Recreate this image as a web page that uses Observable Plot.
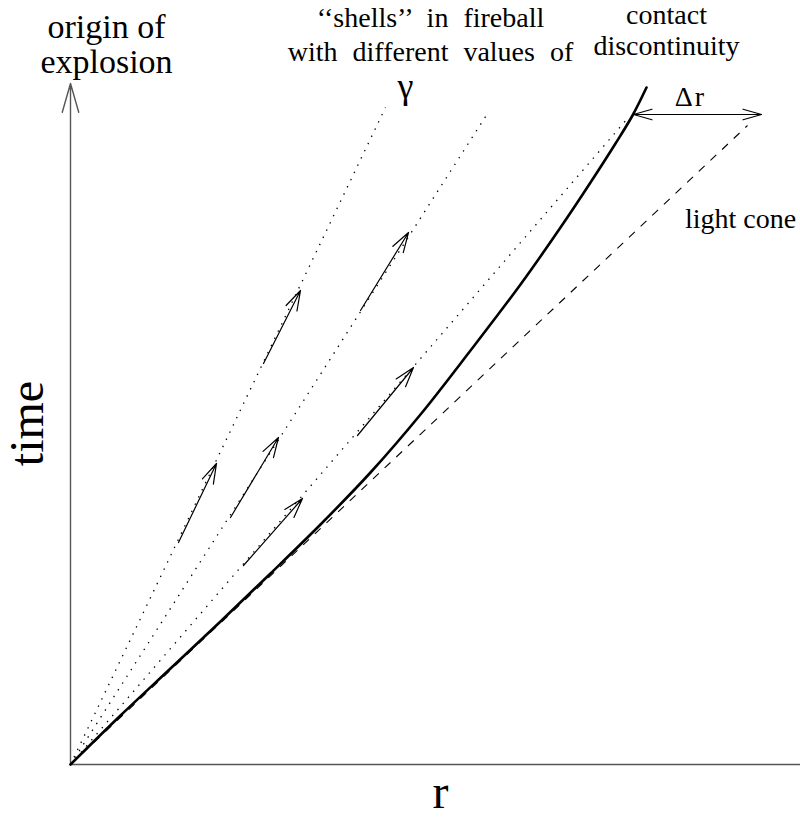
<!DOCTYPE html>
<html><head><meta charset="utf-8">
<script src="https://cdn.jsdelivr.net/npm/d3@7"></script>
<script src="https://cdn.jsdelivr.net/npm/@observablehq/plot@0.6"></script>
<style>body{margin:0;background:#fff} svg{display:block;background:#fff} svg text{font-family:"Liberation Serif","Times New Roman",serif !important;}</style>
</head><body><div id="chart"></div>
<script>
// contact discontinuity world-line (r, time)
const curveR = [0, 50, 100, 150, 200, 250, 300, 350, 400, 450, 490, 520, 545, 562, 576];
const curveT = [0, 49, 96, 143, 191, 240, 292, 350, 414, 480, 537, 582, 621, 649, 677];
// shell world-lines (dotted), from origin to end point
const shellEndR = [315, 417, 557];
const shellEndT = [657, 651, 646];
// light cone (dashed)
const lightConeR = [0, 677];
const lightConeT = [0, 639];
// velocity arrows on shells
const shellArrowR1 = [108, 193, 160, 290, 173, 287];
const shellArrowT1 = [222, 401, 247, 454, 199, 329];
const shellArrowR2 = [146, 230, 208, 338, 232, 343];
const shellArrowT2 = [301, 474, 327, 532, 266, 397];
// Δr separation
const deltaR = [563, 691];
const deltaT = 650;
// axis extents
const axisTop = 681;
const axisRight = 730;

const labels = {
  origin1: "origin of",
  origin2: "explosion",
  shells: "‘‘shells’’ in fireball\nwith different values of",
  gamma: "γ",
  contact: "contact\ndiscontinuity",
  dr: "Δr",
  light: "light cone",
  time: "time",
  r: "r"
};

const serif = "Liberation Serif";
const one = [0];
const txt = (s, x, y, size, extra = {}) =>
  Plot.text([s], {x: () => x, y: () => y, text: d => d, fontSize: size, fontFamily: serif,
    fill: "#000", textAnchor: "middle", lineAnchor: "bottom", ...extra});

const idx = d3.range(curveR.length);
const arrows = d3.range(shellArrowR1.length);
const shells = d3.range(shellEndR.length);

const chart = Plot.plot({
  width: 800, height: 818,
  marginLeft: 0, marginRight: 0, marginTop: 0, marginBottom: 0,
  x: {domain: [-70, 730], axis: null},
  y: {domain: [-54, 764], axis: null},
  marks: [
    // axes
    Plot.ruleY(one, {y: 0, x1: 0, x2: axisRight, stroke: "#555", strokeWidth: 1.4}),
    Plot.arrow(one, {x1: 0, y1: 0, x2: 0, y2: axisTop, stroke: "#555", strokeWidth: 1.4,
      headLength: 32, headAngle: 32}),
    // shells
    Plot.link(shells, {x1: 0, y1: 0, x2: i => shellEndR[i], y2: i => shellEndT[i],
      stroke: "#000", strokeWidth: 1.3, strokeDasharray: "1.4,6.6"}),
    // light cone
    Plot.link(one, {x1: lightConeR[0], y1: lightConeT[0], x2: lightConeR[1], y2: lightConeT[1],
      stroke: "#000", strokeWidth: 1.1, strokeDasharray: "8,8"}),
    // contact discontinuity
    Plot.line(idx, {x: i => curveR[i], y: i => curveT[i], curve: "catmull-rom",
      stroke: "#000", strokeWidth: 2.6}),
    // shell arrows
    Plot.arrow(arrows, {x1: i => shellArrowR1[i], y1: i => shellArrowT1[i],
      x2: i => shellArrowR2[i], y2: i => shellArrowT2[i],
      stroke: "#000", strokeWidth: 1.2, headLength: 26, headAngle: 34}),
    // Δr arrow (double headed)
    Plot.arrow(one, {x1: deltaR[0], y1: deltaT, x2: deltaR[1], y2: deltaT,
      stroke: "#000", strokeWidth: 1.2, headLength: 24, headAngle: 32}),
    Plot.arrow(one, {x1: deltaR[1], y1: deltaT, x2: deltaR[0], y2: deltaT,
      stroke: "#000", strokeWidth: 1.2, headLength: 24, headAngle: 32}),
    // labels
    txt(labels.origin1, 36, 727, 34),
    txt(labels.origin2, 36, 692, 34),
    txt(labels.shells, 360, 704, 28, {lineHeight: 1.18}),
    txt(labels.gamma, 335, 667, 36),
    txt(labels.contact, 596, 710, 28, {lineHeight: 1.08}),
    txt(labels.dr, 620, 659, 28),
    txt(labels.light, 670, 537, 28),
    txt(labels.time, -28, 341, 48, {rotate: -90}),
    txt(labels.r, 370, -43, 48)
  ]
});
document.getElementById("chart").appendChild(chart);
chart.querySelectorAll("text").forEach(t => {
  if (t.textContent.includes("shells")) t.setAttribute("word-spacing", "8");
  if (t.textContent.includes("contact")) t.setAttribute("word-spacing", "4");
  if (t.textContent.includes("Δ")) t.setAttribute("letter-spacing", "2");
});
</script>
</body></html>
